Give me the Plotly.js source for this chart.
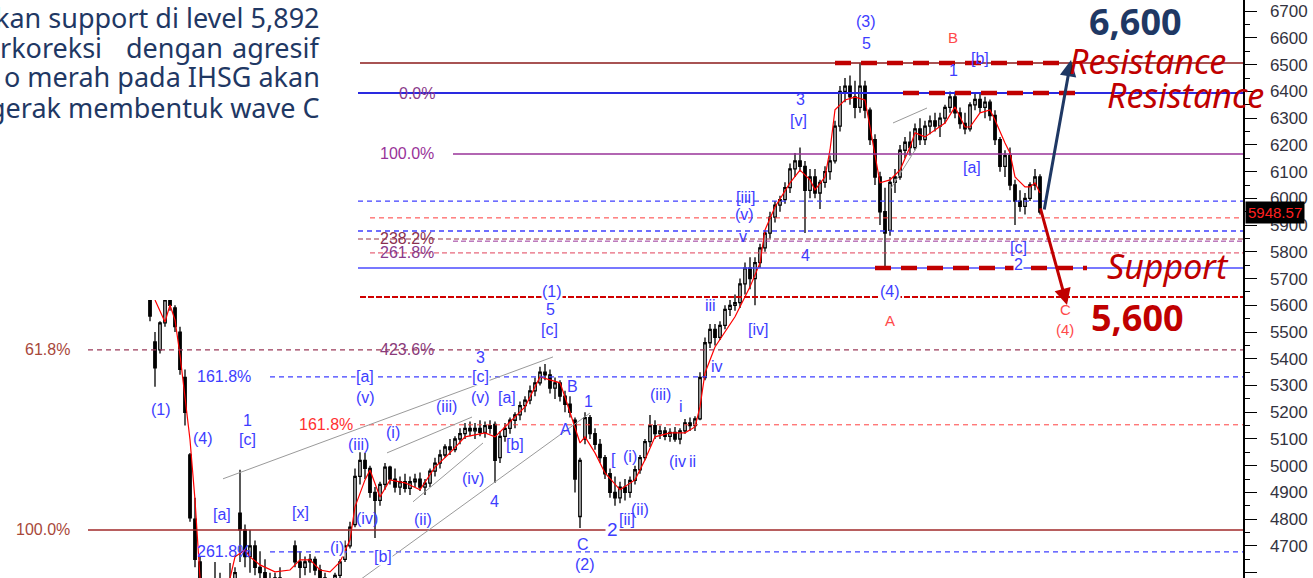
<!DOCTYPE html>
<html><head><meta charset="utf-8">
<script src="https://cdn.plot.ly/plotly-3.0.1.min.js"></script>
<style>html,body{margin:0;padding:0;background:#fff;overflow:hidden}#chart{width:1313px;height:578px}</style>
</head><body><div id="chart"></div>
<script>
// ---- data (IHSG daily candles) ----
const open  = [5660,5463,5433,5534,5620,5590,5500,5330,5040,4800,4640,4520,4460,4500,4560,4520,4490,4540,4823,4760,4660,4700,4620,4600,4560,4520,4580,4540,4510,4700,4640,4620,4640,4650,4610,4580,4550,4530,4590,4650,4700,4780,4960,5020,4990,4900,4870,4930,4995,4950,4920,4940,4915,4940,4950,4920,4935,4980,5010,5040,5070,5060,5100,5120,5140,5130,5140,5125,5150,5155,5030,5110,5140,5170,5190,5225,5245,5280,5310,5350,5340,5290,5310,5260,5230,5170,4810,5100,5180,5120,5080,5030,4970,4900,4880,4920,4900,4945,4985,5030,5090,5150,5120,5130,5110,5125,5100,5130,5160,5150,5175,5330,5460,5510,5480,5525,5585,5600,5610,5680,5740,5700,5760,5815,5870,5930,5975,5995,6040,6110,6140,6120,6030,6080,6020,6060,6100,6140,6270,6400,6420,6380,6340,6420,6330,6220,6080,5950,5880,6060,6080,6180,6210,6190,6260,6220,6270,6290,6270,6300,6340,6380,6320,6280,6260,6350,6370,6340,6360,6310,6220,6120,6160,6050,5990,5970,6000,6050,6080];
const high  = [5720,5500,5540,5640,5660,5600,5520,5360,5048,4880,4660,4560,4540,4640,4600,4560,4636,4620,4985,4780,4760,4720,4680,4650,4600,4600,4620,4580,4560,4720,4680,4660,4670,4660,4630,4600,4580,4600,4650,4720,4790,4990,5050,5048,5000,4920,4940,5010,5000,4990,4960,4970,4960,4970,4975,4950,4990,5030,5060,5080,5100,5110,5140,5160,5165,5160,5170,5165,5170,5165,5130,5160,5180,5200,5240,5260,5300,5330,5370,5380,5360,5330,5320,5280,5260,5180,5030,5200,5190,5140,5100,5040,4990,4960,4940,4950,4960,5000,5040,5100,5190,5170,5150,5145,5140,5145,5140,5175,5180,5185,5350,5480,5530,5530,5540,5600,5620,5640,5700,5760,5780,5780,5830,5880,5950,5990,6010,6060,6130,6170,6190,6140,6110,6110,6070,6120,6160,6290,6420,6450,6460,6440,6505,6440,6340,6240,6100,6040,6080,6110,6200,6230,6250,6280,6300,6290,6310,6320,6320,6350,6400,6400,6340,6320,6360,6395,6390,6380,6370,6330,6230,6180,6190,6070,6030,6020,6060,6110,6090];
const low   = [5540,5295,5420,5520,5580,5500,5340,5150,4790,4620,4480,4420,4400,4470,4480,4450,4470,4500,4640,4620,4600,4590,4560,4520,4480,4470,4500,4480,4460,4620,4580,4590,4600,4590,4560,4520,4500,4510,4580,4640,4690,4770,4930,4950,4880,4730,4850,4910,4930,4900,4890,4900,4890,4920,4905,4890,4920,4960,4990,5030,5040,5050,5080,5100,5110,5100,5110,5105,5120,4936,5010,5090,5120,5140,5170,5200,5230,5260,5300,5320,5270,5250,5240,5200,5180,4900,4767,5080,5100,5060,5010,4950,4880,4850,4860,4870,4880,4930,4970,5020,5070,5100,5100,5095,5090,5090,5080,5120,5130,5130,5170,5320,5440,5450,5470,5510,5560,5580,5590,5640,5660,5600,5740,5800,5850,5910,5950,5980,6020,6080,6100,5870,6000,6000,5960,6040,6070,6130,6250,6360,6350,6300,6320,6300,6200,6050,5900,5745,5860,6020,6070,6150,6160,6180,6200,6200,6240,6250,6230,6280,6320,6300,6260,6240,6250,6330,6320,6300,6290,6200,6100,6080,6030,5900,5950,5940,5990,6030,5940];
const close = [5560,5366,5534,5620,5600,5520,5360,5200,4805,4650,4520,4460,4500,4560,4520,4490,4540,4600,4760,4660,4700,4620,4600,4560,4520,4580,4540,4510,4530,4640,4620,4640,4650,4610,4580,4550,4530,4590,4640,4700,4770,4960,5020,4990,4900,4870,4930,4995,4950,4920,4940,4915,4940,4950,4920,4935,4980,5010,5040,5070,5060,5100,5120,5140,5130,5140,5125,5150,5140,5020,5110,5140,5170,5190,5225,5245,5280,5310,5350,5340,5290,5310,5260,5230,5200,4950,5020,5180,5120,5080,5030,4970,4900,4880,4920,4900,4945,4985,5030,5090,5150,5120,5130,5110,5125,5100,5130,5160,5150,5175,5330,5460,5510,5480,5525,5585,5600,5610,5680,5740,5700,5760,5815,5870,5930,5975,5995,6040,6110,6140,6120,6030,6080,6020,6060,6100,6140,6270,6400,6420,6380,6340,6420,6330,6220,6080,5950,5870,6060,6080,6180,6210,6190,6260,6220,6270,6290,6270,6300,6340,6380,6320,6280,6260,6350,6370,6340,6360,6310,6220,6120,6160,6050,5990,5970,6000,6050,6080,5948.57];
// moving average read at sample candles
const maIdx = [1,3,4,5,6,7,8,9,10,12,15,17,19,20,22,25,28,30,32,34,36,38,40,41,43,44,46,48,51,54,57,60,63,67,69,71,75,78,80,82,83,86,87,89,91,94,97,99,101,104,107,109,110,111,113,117,120,122,123,125,128,130,132,133,135,136,137,139,141,143,144,145,146,148,150,152,153,155,157,159,161,163,164,166,168,169,171,172,173,175,176,177,178];
const maVal = [5620,5538,5601,5545,5414,5246,5097,4872,4580,4461,4498,4659,4685,4659,4629,4603,4610,4648,4648,4610,4603,4640,4723,4846,4947,4984,4883,4947,4936,4910,4995,5048,5108,5123,5108,5145,5220,5332,5321,5310,5257,5085,5108,5048,4973,4910,4947,5022,5108,5123,5123,5145,5220,5347,5444,5557,5669,5758,5882,5968,6058,6106,6069,6032,6080,6181,6331,6368,6379,6368,6267,6155,6058,6069,6106,6192,6245,6230,6256,6282,6342,6267,6267,6320,6331,6293,6207,6170,6080,6043,6043,6058,6020];
// horizontal levels (price)
const levelValues = [6506,6394,6166,5990,5927,5878,5848,5840,5796,5740,5631,5433,5332,5153,4760,4678];
const lastPrice = 5948.57;
const resistance1 = 6506, resistance2 = 6394, support = 5740;

const xIdx = close.map((_, i) => i);

// styles for each level (same order as levelValues)
const levelStyle = [
  {c:'#8B1A1A', w:1.5, d:'solid',    s:42},
  {c:'#2A2AE0', w:2,   d:'solid',    s:41.6},
  {c:'#993399', w:1.5, d:'solid',    s:60.6},
  {c:'#3F3FFF', w:1.3, d:'5px,4px',  s:41.6},
  {c:'#FF3B3B', w:1,   d:'5px,4px',  s:44},
  {c:'#3F3FFF', w:1.3, d:'5px,4px',  s:41.6},
  {c:'#993344', w:1,   d:'5px,3px',  s:41.6},
  {c:'#993399', w:1,   d:'5px,3px',  s:60.6},
  {c:'#E0405A', w:1,   d:'5px,3px',  s:44},
  {c:'#4B4BFF', w:1.5, d:'solid',    s:41.6},
  {c:'#D00000', w:2,   d:'6px,2px',  s:42},
  {c:'#9B3A5A', w:1.2, d:'5px,4px',  s:-12.4},
  {c:'#3F3FFF', w:1.3, d:'5px,4px',  s:24},
  {c:'#FF4040', w:1,   d:'5px,4px',  s:42},
  {c:'#A0282A', w:1.5, d:'solid',    s:-12.4},
  {c:'#3F3FFF', w:1.3, d:'5px,4px',  s:24}
];

const shapes = [];
levelValues.forEach((v, k) => {
  const st = levelStyle[k];
  shapes.push({type:'line', xref:'x', yref:'y', x0:st.s, x1:240, y0:v, y1:v,
    line:{color:st.c, width:st.w, dash:st.d}, layer:'above'});
});
// thick red dashed resistance/support
[[resistance1,137,183],[resistance2,150.6,186],[support,145,187.4]].forEach(r => {
  shapes.push({type:'line', xref:'x', yref:'y', x0:r[1], x1:r[2], y0:r[0], y1:r[0],
    line:{color:'#C00000', width:4.5, dash:'16px,10px'}, layer:'above'});
});
// grey channel lines
[[14.6,4951,80.6,5407],[47.4,5048,64.4,5182],[52.6,4865,66.6,5085],[42,4573,88,5197],[148.6,6282,155.4,6338],[148,6032,153.4,6192]].forEach(g => {
  shapes.push({type:'line', xref:'x', yref:'y', x0:g[0], y0:g[1], x1:g[2], y1:g[3],
    line:{color:'#9A9A9A', width:1}, layer:'above'});
});
// white text box at top-left (covers chart)
shapes.push({type:'rect', xref:'paper', yref:'paper', x0:0, x1:345/1243, y0:1-300/578, y1:1.01,
  fillcolor:'#FFFFFF', line:{width:0}, layer:'above'});

const F = 'Liberation Sans, Arial, sans-serif';
const BLUE = '#3D3DFF', RED = '#FF4A4A';
const ann = [];
function lab(t, x, y, col, size, bg) {
  ann.push({text:t, x:x, y:y, xref:'x', yref:'y', showarrow:false,
    font:{family:F, size:size||16, color:col||BLUE},
    bgcolor: bg ? '#FFFFFF' : 'rgba(0,0,0,0)', borderpad:0});
}
// wave labels
[
 ['(3)',143.2,6660],['5',143.2,6578],['3',130,6368],['[v]',129.6,6293],
 ['[iii]',119.2,6005],['(v)',118.8,5938],['v',118.6,5859],['4',131,5785],
 ['iii',112,5601],['iv',113.4,5373],['[iv]',121.6,5508],['(iii)',102,5265],['i',106.2,5220],
 ['(iv',105.4,5014],['ii',108.4,5014],['[',92.6,5022],['(i)',96,5033],['(ii)',98,4835],['[ii]',95.4,4797],
 ['1',87.6,5239],['B',84.4,5295],['A',83,5134],['C',86.6,4704],['(2)',87,4629],
 ['5',80,5583],['[c]',79.8,5508],['3',66,5403],['(v)',66,5257],['[a]',71.4,5254],['[b]',73,5078],
 ['(iv)',64.6,4951],['4',68.8,4865],['(ii)',54.6,4797],['(iii)',59.2,5220],['(i)',48.6,5123],
 ['(v)',43,5257],['(iii)',41.6,5078],['(iv)',43.4,4801],['[x]',30,4824],['[a]',14.4,4816],
 ['1',19.4,5171],['[c]',19.4,5097],['(4)',10.6,5100],['(1)',2.2,5212],
 ['[c]',173.6,5815],['[a]',164.4,6114],['[b]',166,6525],['1',160.6,6480]
].forEach(a => lab(a[0], a[1], a[2]));
[
 ['(1)',80.4,5650],['[c]',66,5332],['[b]',46.6,4659],['[a]',43,5332],['(i)',37.4,4693],['(4)',148,5650],['2',173.6,5751]
].forEach(a => lab(a[0], a[1], a[2], BLUE, 16, true));
ann.push({text:'2', x:92.4, y:4760, xref:'x', yref:'y', showarrow:false, font:{family:F,size:19,color:BLUE}, bgcolor:'#FFFFFF'});
[['B',160.6,6600],['A',148,5545],['C',183,5583],['(4)',183,5508]].forEach(a => lab(a[0], a[1], a[2], RED, 15));
// fib labels
[
 ['0.0%',53.4,6394,'#8A3A8A'],['100.0%',51.4,6166,'#993399'],['238.2%',51.4,5850,'#8A3050'],
 ['261.8%',51.4,5798,'#8A3A8A'],['423.6%',51.4,5433,'#8A3A7A'],['61.8%',-20.6,5433,'#A8483A'],
 ['161.8%',14.8,5332,'#3D3DFF'],['161.8%',35.2,5153,'#FF3030'],['100.0%',-21.4,4760,'#A8483A'],['261.8%',14.8,4678,'#3D3DFF']
].forEach(a => lab(a[0], a[1], a[2], a[3], 16));

// arrows
ann.push({x:184.2, y:6518, ax:178.8, ay:5953, xref:'x', yref:'y', axref:'x', ayref:'y', text:'', showarrow:true,
  arrowhead:2, arrowsize:1.1, arrowwidth:3, arrowcolor:'#1F3864', standoff:0, startstandoff:0});
ann.push({x:183.4, y:5601, ax:178, ay:5968, xref:'x', yref:'y', axref:'x', ayref:'y', text:'', showarrow:true,
  arrowhead:2, arrowsize:1.1, arrowwidth:3, arrowcolor:'#C00000', standoff:0, startstandoff:0});
// big targets and captions
const NS = 'Noto Sans, Open Sans, sans-serif';
ann.push({text:'<b>6,600</b>', x:197, y:6662, xref:'x', yref:'y', showarrow:false, font:{family:NS, size:36, color:'#1F3864'}});
ann.push({text:'<b>5,600</b>', x:197.4, y:5553, xref:'x', yref:'y', showarrow:false, font:{family:NS, size:36, color:'#C00000'}});
ann.push({text:'<i>Resistance</i>', x:199.4, y:6514, xref:'x', yref:'y', showarrow:false, font:{family:NS, size:34, color:'#C00000'}});
ann.push({text:'<i>Resistance</i>', x:207, y:6387, xref:'x', yref:'y', showarrow:false, font:{family:NS, size:34, color:'#C00000'}});
ann.push({text:'<i>Support</i>', x:203.6, y:5747, xref:'x', yref:'y', showarrow:false, font:{family:NS, size:34, color:'#C00000'}});
// last price box
ann.push({text:lastPrice.toFixed(2), x:1.0015, y:lastPrice, xref:'paper', yref:'y', xanchor:'left', showarrow:false,
  bgcolor:'#000000', font:{family:F, size:15, color:'#FF2020'}, borderpad:2});
// paragraph text (cut at left)
const TXT = '#1F3864', tsz = 27;
const px = v => v/1243, py = v => 1 - v/578;
function para(t, xp, yp, anchor) {
  ann.push({text:t, x:px(xp), y:py(yp), xref:'paper', yref:'paper', xanchor:anchor, yanchor:'middle',
    showarrow:false, font:{family:NS, size:tsz, color:TXT}});
}
para('kan support di level 5,892', 322, 17, 'right');
para('rkoreksi', 104, 47, 'right');
para('dengan', 174, 47, 'center');
para('agresif', 322, 47, 'right');
para('o merah pada IHSG akan', 322, 77, 'right');
para('gerak membentuk wave C', 322, 107, 'right');

const traces = [
  {type:'candlestick', x:xIdx, open:open, high:high, low:low, close:close,
   increasing:{line:{color:'#000000', width:1.3}, fillcolor:'#FFFFFF'},
   decreasing:{line:{color:'#000000', width:1.3}, fillcolor:'#000000'},
   whiskerwidth:0, showlegend:false, hoverinfo:'skip'},
  {type:'scatter', mode:'lines', x:maIdx, y:maVal, line:{color:'#FF0000', width:1.2}, showlegend:false, hoverinfo:'skip'}
];

const layout = {
  width:1313, height:578, margin:{l:0, r:70, t:0, b:0},
  paper_bgcolor:'#FFFFFF', plot_bgcolor:'#FFFFFF', showlegend:false,
  xaxis:{range:[-30, 218.6], showgrid:false, zeroline:false, showticklabels:false, ticks:'', showline:false, rangeslider:{visible:false}, fixedrange:true},
  yaxis:{range:[4580, 6742], side:'right', showgrid:false, zeroline:false, showline:true, linecolor:'#000', linewidth:1.5,
    ticks:'outside', ticklen:12, tickwidth:1, tickcolor:'#000', dtick:100, tick0:0, ticklabelstandoff:10,
    tickfont:{family:F, size:17, color:'#333340'},
    minor:{dtick:50, ticks:'outside', ticklen:5, tickcolor:'#000', showgrid:false}},
  shapes:shapes, annotations:ann
};
Plotly.newPlot('chart', traces, layout, {staticPlot:true, displayModeBar:false});
</script></body></html>
